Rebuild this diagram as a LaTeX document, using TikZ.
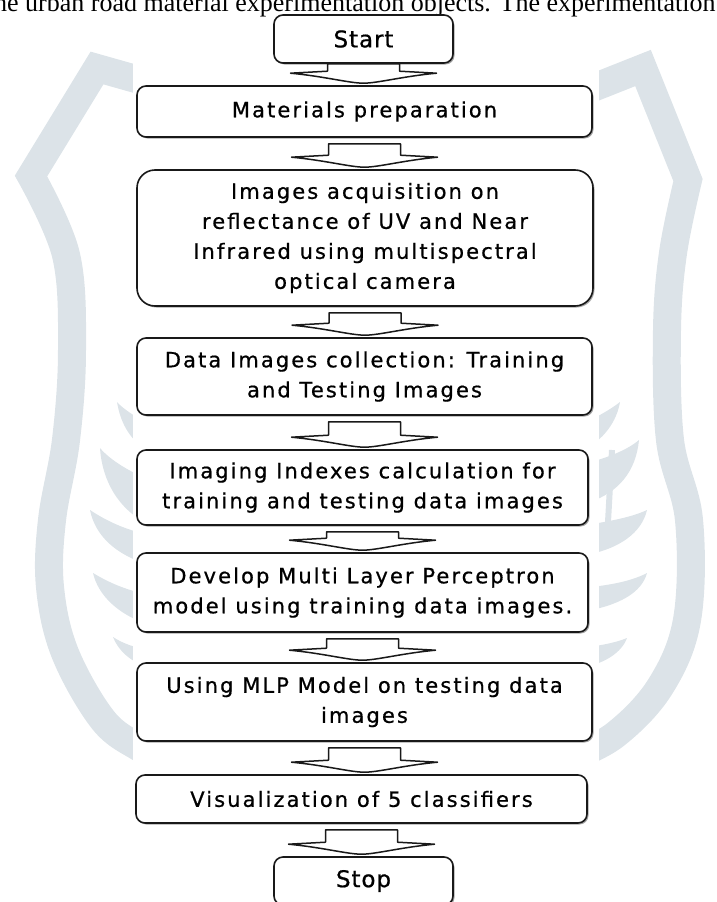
\documentclass[tikz,border=0pt]{standalone}
\usepackage{fontspec}
\usetikzlibrary{calc,shadows}
\newfontfamily\boxfont[LetterSpace=10,FakeBold=0.7]{DejaVu Sans}
\newfontfamily\termfont[LetterSpace=4,FakeBold=0.7]{DejaVu Sans}
\newfontfamily\bodyserif{Liberation Serif}
\definecolor{wmark}{RGB}{220,227,232}
\definecolor{ink}{RGB}{25,25,25}
\newcommand\flowarrow[3][6pt]{%
  \draw[blockarrow] let \p1=(#2.south), \p2=(#3.north) in
    (\x1-36pt,\y1-#1) -- (\x1-36pt,\y2+14pt) -- (\x1-73pt,\y2+12pt)
    .. controls (\x1-40pt,\y2+9pt) and (\x1-14pt,\y2+2pt) .. (\x1,\y2+2pt)
    .. controls (\x1+14pt,\y2+2pt) and (\x1+40pt,\y2+9pt) .. (\x1+73pt,\y2+12pt)
    -- (\x1+36pt,\y2+14pt) -- (\x1+36pt,\y1-#1) -- cycle;}
\begin{document}
\begin{tikzpicture}[x=1pt,y=-1pt,
  flowbox/.style={draw=ink, line width=1.6pt, rounded corners=9pt, fill=white,
    inner sep=0pt, align=center, font=\boxfont\fontsize{21}{30}\selectfont,
    drop shadow={shadow xshift=1.5pt, shadow yshift=-1.5pt, fill=black!35, opacity=1}},
  termbox/.style={flowbox, font=\termfont\fontsize{23}{28}\selectfont,
    minimum width=179pt, minimum height=48pt},
  blockarrow/.style={draw=ink, line width=1.5pt, fill=white, line join=round},
  wmband/.style={draw=wmark, line width=28pt, line join=miter},
  wmleaf/.style={fill=wmark}]
\useasboundingbox (0,0) rectangle (717,902);
\clip (0,0) rectangle (717,902);
% watermark
\draw[wmband] (150,83) -- (97,68) -- plot[smooth, tension=0.6] coordinates
  {(31,176) (66,255) (72,350) (66,440) (52,520) (50,587) (65,653) (103,720) (140,748) (165,760)};
\draw[wmband] (580,93) -- (643,68) -- plot[smooth, tension=0.6] coordinates
  {(688,180) (673,253) (667,330) (670,440) (689,520) (687,620) (660,687) (615,735) (570,758)};
\fill[wmleaf] (117,402) .. controls (120,420) and (128,440) .. (150,452) -- (150,425) .. controls (138,418) and (124,410) .. cycle;
\fill[wmleaf] (100,448) .. controls (102,480) and (118,510) .. (150,525) -- (150,480) .. controls (130,472) and (110,460) .. cycle;
\fill[wmleaf] (90,510) .. controls (95,535) and (115,555) .. (150,565) -- (150,535) .. controls (125,530) and (105,520) .. cycle;
\fill[wmleaf] (93,573) .. controls (98,595) and (118,615) .. (150,625) -- (150,595) .. controls (125,590) and (108,582) .. cycle;
\fill[wmleaf] (113,637) .. controls (118,650) and (130,662) .. (150,668) -- (150,650) .. controls (135,648) and (122,643) .. cycle;
\fill[wmleaf] (620,402) .. controls (617,420) and (605,440) .. (580,452) -- (580,425) .. controls (595,418) and (610,410) .. cycle;
\fill[wmleaf] (639,440) .. controls (636,470) and (620,495) .. (580,505) -- (580,465) .. controls (600,460) and (625,452) .. cycle;
\fill[wmleaf] (647,510) .. controls (642,532) and (620,550) .. (580,556) -- (580,526) .. controls (605,522) and (630,518) .. cycle;
\fill[wmleaf] (647,573) .. controls (642,592) and (620,606) .. (580,612) -- (580,588) .. controls (605,586) and (630,582) .. cycle;
\fill[wmleaf] (627,638) .. controls (622,652) and (605,664) .. (580,668) -- (580,648) .. controls (598,646) and (615,643) .. cycle;
\draw[wmark, line width=6pt] (612,450) -- (607,540);
% diagram background
\fill[white] (133,16) rectangle (599,902);
% cut-off line of text above the figure
\node[anchor=base west, inner sep=0pt, font=\bodyserif\fontsize{26}{30}\selectfont] (topline) at (-6,11)
  {he urban road material experimentation objects. The experimentation};
% boxes
\node[termbox] (start) at (363.5,39) {Start};
\node[flowbox, minimum width=455pt, minimum height=51pt] (prep) at (364.5,111.5) {Materials preparation};
\node[flowbox, rounded corners=18pt, minimum width=456pt, minimum height=136pt] (acq) at (365,238)
  {Images acquisition on\\reflectance of UV and Near\\Infrared using multispectral\\optical camera};
\node[flowbox, minimum width=455pt, minimum height=77pt] (coll) at (364.5,376.5)
  {Data Images collection: Training\\and Testing Images};
\node[flowbox, minimum width=451pt, minimum height=75pt] (idx) at (362.5,487.5)
  {Imaging Indexes calculation for\\training and testing data images};
\node[flowbox, minimum width=451pt, minimum height=79pt] (mlp) at (362.5,592.5)
  {Develop Multi Layer Perceptron\\model using training data images.};
\node[flowbox, minimum width=455pt, minimum height=78pt] (test) at (364.5,702)
  {Using MLP Model on testing data\\images};
\node[flowbox, minimum width=451pt, minimum height=48pt] (vis) at (361.5,799)
  {Visualization of 5 classifiers};
\node[termbox] (stop) at (363.5,881) {Stop};
% block arrows
\flowarrow[0pt]{start}{prep}
\flowarrow{prep}{acq}
\flowarrow{acq}{coll}
\flowarrow{coll}{idx}
\flowarrow{idx}{mlp}
\flowarrow{mlp}{test}
\flowarrow{test}{vis}
\flowarrow{vis}{stop}
\end{tikzpicture}
\end{document}
